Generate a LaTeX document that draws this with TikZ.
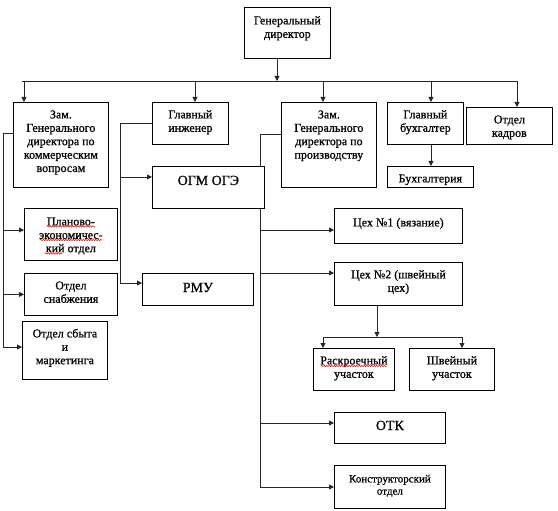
\documentclass[tikz,border=0pt]{standalone}
\usepackage{fontspec}
\setmainfont{Liberation Serif}[FakeBold=0.8]
\usetikzlibrary{arrows.meta,decorations.pathmorphing}
\pgfdeclarelayer{bg}
\pgfsetlayers{bg,main}
\newcommand\bxt[4]{\parbox[c][#2][t]{#1}{\centering\rule{0pt}{#3}#4\par}}
\begin{document}
\begin{tikzpicture}[x=1pt,y=-1pt,
  box/.style={draw=black,fill=white,line width=0.8pt,inner sep=0pt,anchor=north west,
    font=\rmfamily\fontsize{12}{13.4}\selectfont},
  big/.style={font=\rmfamily\fontsize{14}{16}\selectfont},
  small/.style={font=\rmfamily\fontsize{11}{12.2}\selectfont},
  con/.style={draw=black!85,line width=0.8pt},
  arr/.style={con,-{Triangle[length=5pt,width=5pt]}},
  squig/.style={draw=red,line width=0.5pt,decorate,
    decoration={snake,amplitude=0.7pt,segment length=2.5pt}}]
\useasboundingbox (0,0) rectangle (558,511);
% boxes
\node[box] (gd) at (244,7) {\bxt{86pt}{51pt}{17pt}{Генеральный\\директор}};
\node[box] (zam) at (13,102) {\bxt{95pt}{85pt}{16pt}{Зам.\\Генерального\\директора по\\коммерческим\\вопросам}};
\node[box] (gi) at (152,102) {\bxt{76pt}{42pt}{16pt}{Главный\\инженер}};
\node[box] (zp) at (281,102) {\bxt{95pt}{85pt}{16pt}{Зам.\\Генерального\\директора по\\производству}};
\node[box] (gb) at (387,102) {\bxt{76pt}{42pt}{16pt}{Главный\\бухгалтер}};
\node[box] (ok) at (466,107) {\bxt{86pt}{37pt}{16pt}{Отдел\\кадров}};
\node[box] (buh) at (387,166) {\bxt{86pt}{21pt}{16pt}{Бухгалтерия}};
\node[box,big] (ogm) at (152,166) {\bxt{112pt}{42pt}{18.6pt}{ОГМ ОГЭ}};
\node[box] (plan) at (24,208) {\bxt{93pt}{52pt}{17pt}{Планово-\\экономичес-\\кий отдел}};
\node[box] (snab) at (24,273) {\bxt{93pt}{42pt}{16pt}{Отдел\\снабжения}};
\node[box] (sbyt) at (22,321) {\bxt{85pt}{58pt}{16pt}{Отдел сбыта\\и\\маркетинга}};
\node[box,big] (rmu) at (142,273) {\bxt{111pt}{32pt}{18.6pt}{РМУ}};
\node[box] (c1) at (334,208) {\bxt{128pt}{35pt}{18pt}{Цех №1 (вязание)}};
\node[box] (c2) at (334,262) {\bxt{128pt}{43pt}{16pt}{Цех №2 (швейный\\цех)}};
\node[box] (rask) at (313,348) {\bxt{81pt}{42pt}{16pt}{Раскроечный\\участок}};
\node[box] (shv) at (409,348) {\bxt{85pt}{42pt}{16pt}{Швейный\\участок}};
\node[box,big] (otk) at (334,412) {\bxt{111pt}{31pt}{17.6pt}{ОТК}};
\node[box,small] (konst) at (334,465) {\bxt{111pt}{43pt}{17pt}{Конструкторский\\отдел}};
% spell-check marks
\draw[squig] ([shift={(23,18.5)}]plan.north west) -- ++(48,0);
\draw[squig] ([shift={(16,32)}]plan.north west) -- ++(62,0);
\draw[squig] ([shift={(21,45.5)}]plan.north west) -- ++(17,0);
\draw[squig] ([shift={(8,18)}]rask.north west) -- ++(66,0);
% helper coordinates
\coordinate (busL) at (22,81);
\coordinate (busR) at (517,81);
\coordinate (trunkA) at (3,347);
\coordinate (trunkB) at (120,283);
\coordinate (trunkC) at (260,487);
\coordinate (split) at (377,337);
\coordinate (splitL) at (323,337);
\coordinate (splitR) at (462,337);
\begin{pgfonlayer}{bg}
\draw[arr] ([xshift=33pt]gd.south west) -- ([xshift=33pt]gd.south west |- busL);
\draw[con] (busL) -- (busR);
\draw[arr] ([xshift=11pt]zam.north west |- busL) -- ([xshift=11pt]zam.north west);
\draw[arr] ([xshift=43pt]gi.north west |- busL) -- ([xshift=43pt]gi.north west);
\draw[arr] ([xshift=42pt]zp.north west |- busL) -- ([xshift=42pt]zp.north west);
\draw[arr] ([xshift=44pt]gb.north west |- busL) -- ([xshift=44pt]gb.north west);
\draw[arr] (busR) -- ([xshift=51pt]ok.north west);
% commercial branch
\draw[con] ([yshift=-31pt]zam.north west) -| (trunkA);
\draw[arr] ([yshift=-22pt]plan.north west -| trunkA) -- ([yshift=-22pt]plan.north west);
\draw[arr] (snab.west -| trunkA) -- (snab.west);
\draw[arr] (trunkA) -- ([yshift=-26pt]sbyt.north west);
% chief engineer branch
\draw[con] (gi.west) -| (trunkB);
\draw[arr] ([yshift=-11pt]ogm.north west -| trunkB) -- ([yshift=-11pt]ogm.north west);
\draw[arr] (trunkB) -- ([yshift=-10pt]rmu.north west);
% production branch
\draw[con] ([yshift=-32pt]zp.north west) -| (trunkC);
\draw[arr] ([yshift=-22pt]c1.north west -| trunkC) -- ([yshift=-22pt]c1.north west);
\draw[arr] ([yshift=-11pt]c2.north west -| trunkC) -- ([yshift=-11pt]c2.north west);
\draw[arr] ([yshift=-11pt]otk.north west -| trunkC) -- ([yshift=-11pt]otk.north west);
\draw[arr] (trunkC) -- ([yshift=-22pt]konst.north west);
% accountant
\draw[arr] ([xshift=44pt]gb.south west) -- ([xshift=44pt]buh.north west);
% workshop 2
\draw[arr] ([xshift=43pt]c2.south west) -- (split);
\draw[con] (splitL) -- (splitR);
\draw[arr] (splitL) -- ([xshift=10pt]rask.north west);
\draw[arr] (splitR) -- ([xshift=53pt]shv.north west);
\end{pgfonlayer}
\end{tikzpicture}
\end{document}
